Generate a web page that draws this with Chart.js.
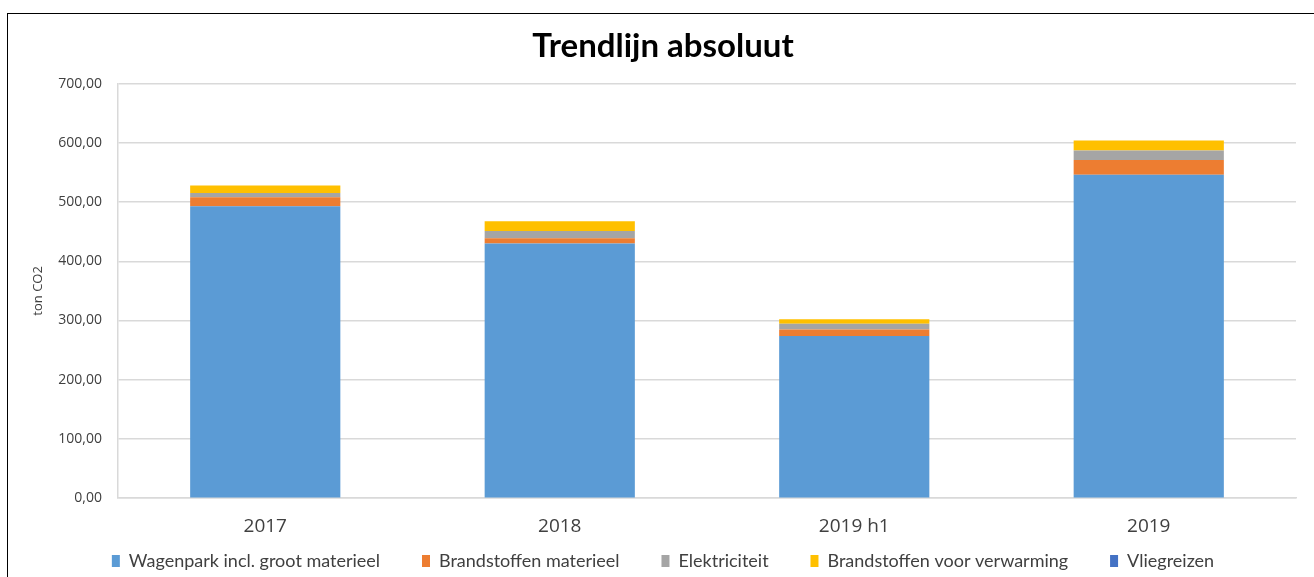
<!DOCTYPE html>
<html>
<head>
<meta charset="utf-8">
<script src="https://cdn.jsdelivr.net/npm/chart.js@4"></script>
<style>
  html, body { margin:0; padding:0; background:#fff; width:1314px; height:577px; overflow:hidden; }
  #frame { position:absolute; left:7px; top:13px; width:1400px; height:700px; border-left:1.5px solid #000; border-top:1.5px solid #000; }
  #wrap { position:absolute; left:0; top:0; width:1314px; height:577px; }
</style>
</head>
<body>
<div id="frame"></div>
<div id="wrap"><canvas id="c" width="1314" height="577"></canvas></div>
<script>
const categories = ["2017", "2018", "2019 h1", "2019"];
const wagenpark = [493, 430, 274, 546];
const brandstoffenMaterieel = [15, 9, 11, 25];
const elektriciteit = [7.5, 12, 9.5, 16];
const brandstoffenVerwarming = [12.5, 16.5, 7.5, 17];
const vliegreizen = [0, 0, 0, 0];
const yTicks = [0, 100, 200, 300, 400, 500, 600, 700];

const fmt = v => v.toFixed(2).replace('.', ',');

new Chart(document.getElementById('c'), {
  type: 'bar',
  data: {
    labels: categories,
    datasets: [
      { label: 'Wagenpark incl. groot materieel', data: wagenpark, backgroundColor: '#5B9BD5' },
      { label: 'Brandstoffen materieel', data: brandstoffenMaterieel, backgroundColor: '#ED7D31' },
      { label: 'Elektriciteit', data: elektriciteit, backgroundColor: '#A5A5A5' },
      { label: 'Brandstoffen voor verwarming', data: brandstoffenVerwarming, backgroundColor: '#FFC000' },
      { label: 'Vliegreizen', data: vliegreizen, backgroundColor: '#4472C4' }
    ]
  },
  options: {
    responsive: false,
    animation: false,
    devicePixelRatio: 1,
    datasets: { bar: { categoryPercentage: 0.51, barPercentage: 1.0, borderWidth: 0 } },
    layout: { padding: { left: 30, right: 18, top: 0, bottom: -3 } },
    plugins: {
      title: {
        display: true,
        text: 'Trendlijn absoluut',
        color: '#000',
        font: { family: 'Lato', size: 33, weight: 'bold' },
        padding: { top: 27, bottom: 17 }
      },
      legend: {
        position: 'bottom',
        labels: {
          color: '#404040',
          font: { family: 'Lato', size: 18 },
          boxWidth: 8, boxHeight: 12,
          padding: 5,
          generateLabels: chart => {
            const items = Chart.defaults.plugins.legend.labels.generateLabels(chart);
            items.forEach((it, i) => { if (i < items.length - 1) it.text = it.text + '        '; });
            return items;
          }
        }
      },
      tooltip: { enabled: false }
    },
    scales: {
      x: {
        stacked: true,
        grid: { display: false },
        border: { color: '#d9d9d9', width: 1.5 },
        ticks: { color: '#404040', font: { family: 'Open Sans', size: 19 }, padding: 9 }
      },
      y: {
        stacked: true,
        min: 0, max: 700,
        afterFit: s => { s.width = 88; },
        afterBuildTicks: s => { s.ticks = yTicks.map(v => ({ value: v })); },
        grid: { color: '#d9d9d9', lineWidth: 1.5, drawTicks: false },
        border: { display: true, color: '#d9d9d9', width: 1.5 },
        ticks: { color: '#404040', font: { family: 'Open Sans', size: 14 }, padding: 16, callback: v => fmt(v) },
        title: { display: true, text: 'ton CO2', color: '#404040', font: { family: 'Open Sans', size: 13 }, padding: { top: 0, bottom: 0 } }
      }
    }
  }
});
</script>
</body>
</html>
